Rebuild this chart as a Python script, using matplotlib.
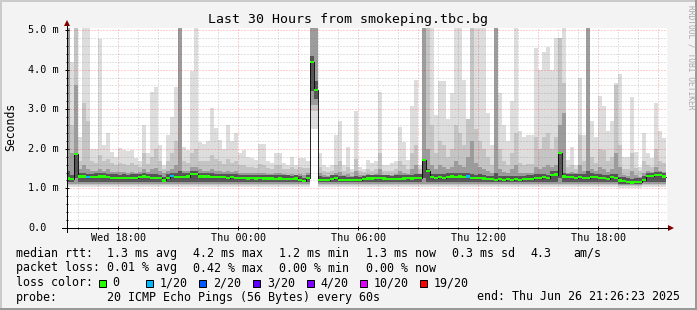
"""SmokePing style latency graph: last 30 hours from smokeping.tbc.bg."""

import numpy as np
import matplotlib

matplotlib.use("Agg")
import matplotlib.pyplot as plt
from matplotlib.lines import Line2D
from matplotlib.patches import Polygon, Rectangle
from matplotlib.transforms import blended_transform_factory

W, H = 697, 310
MONO = "DejaVu Sans Mono"

# ── data ────────────────────────────────────────────────────────────────
# 12 minute bins, time in hours since Wed 00:00 (Thu = 24..48)
bin_start = 15.4
bin_hours = 0.2
view_start, view_end = 15.4333, 45.4333

median = [
    1.25, 1.24, 1.87, 1.30, 1.30, 1.28, 1.28, 1.29, 1.30, 1.30,
    1.28, 1.27, 1.27, 1.26, 1.27, 1.26, 1.27, 1.27, 1.28, 1.30,
    1.28, 1.27, 1.27, 1.26, 1.20, 1.27, 1.31, 1.28, 1.28, 1.29,
    1.30, 1.36, 1.36, 1.30, 1.30, 1.30, 1.29, 1.28, 1.28, 1.28,
    1.27, 1.28, 1.27, 1.26, 1.26, 1.25, 1.26, 1.25, 1.26, 1.25,
    1.25, 1.25, 1.24, 1.25, 1.24, 1.24, 1.23, 1.25, 1.22, 1.18,
    1.26, 4.20, 3.48, 1.22, 1.21, 1.21, 1.24, 1.26, 1.22, 1.22,
    1.21, 1.21, 1.22, 1.21, 1.23, 1.25, 1.25, 1.26, 1.26, 1.25,
    1.24, 1.23, 1.24, 1.24, 1.25, 1.26, 1.25, 1.27, 1.27, 1.72,
    1.43, 1.28, 1.27, 1.28, 1.27, 1.29, 1.30, 1.29, 1.30, 1.29,
    1.30, 1.27, 1.26, 1.27, 1.25, 1.23, 1.23, 1.22, 1.23, 1.22,
    1.23, 1.22, 1.23, 1.22, 1.23, 1.24, 1.24, 1.27, 1.27, 1.28,
    1.26, 1.34, 1.35, 1.90, 1.30, 1.28, 1.28, 1.27, 1.28, 1.27,
    1.27, 1.29, 1.28, 1.27, 1.26, 1.24, 1.28, 1.27, 1.20, 1.19,
    1.16, 1.15, 1.17, 1.17, 1.22, 1.31, 1.31, 1.33, 1.33, 1.30,
]

# lost pings out of 20 per bin
loss = [0] * 5 + [1] + [0] * 20 + [1] + [0] * 73 + [1] + [0] * 49

# smoke: outer (min..max) ring, then tighter rings around the median
rtt_max = [
    5.1, 4.2, 5.1, 2.3, 5.1, 5.1, 2.0, 2.0, 4.78, 2.1,
    2.4, 1.93, 1.8, 2.03, 1.98, 1.95, 1.98, 1.76, 1.68, 2.6,
    1.89, 3.44, 3.57, 2.1, 1.6, 2.35, 2.8, 3.57, 5.1, 2.05,
    1.98, 3.97, 5.1, 2.18, 2.13, 2.2, 3.03, 2.52, 2.22, 2.0,
    2.6, 2.2, 2.4, 1.9, 1.98, 1.8, 1.76, 1.72, 2.13, 2.13,
    1.68, 1.63, 1.9, 1.9, 1.63, 1.59, 1.8, 1.6, 1.76, 1.76,
    1.68, 5.1, 5.1, 1.9, 1.6, 1.55, 1.6, 2.35, 2.7, 1.6,
    2.05, 1.5, 2.96, 1.55, 1.5, 1.72, 1.63, 1.68, 3.44, 1.6,
    1.6, 1.63, 1.68, 2.55, 2.18, 1.72, 3.07, 3.74, 1.6, 5.1,
    5.1, 5.1, 2.85, 3.71, 3.71, 2.74, 3.4, 5.1, 5.1, 3.74,
    2.7, 5.1, 5.1, 5.1, 5.1, 2.9, 2.1, 5.1, 3.4, 2.6,
    2.2, 3.2, 5.1, 2.45, 2.3, 2.35, 2.35, 4.54, 4.0, 4.45,
    4.58, 4.0, 4.8, 4.8, 5.1, 1.72, 2.05, 1.59, 3.78, 2.35,
    5.1, 2.7, 2.3, 3.33, 3.08, 2.45, 2.7, 3.66, 3.9, 1.8,
    1.8, 3.3, 1.93, 1.55, 2.4, 1.9, 1.76, 3.15, 2.45, 2.27,
]
ring_mid = [
    5.1, 2.6, 5.1, 1.7, 3.15, 2.7, 1.7, 1.65, 1.85, 1.7,
    1.75, 1.65, 1.6, 1.65, 1.62, 1.6, 1.65, 1.6, 1.55, 1.9,
    1.62, 1.8, 2.0, 1.7, 1.5, 1.7, 1.9, 2.2, 5.1, 1.7,
    1.65, 1.9, 2.0, 1.7, 1.68, 1.7, 1.85, 1.75, 1.7, 1.62,
    1.75, 1.65, 1.7, 1.6, 1.6, 1.55, 1.55, 1.52, 1.62, 1.6,
    1.52, 1.5, 1.58, 1.6, 1.5, 1.48, 1.55, 1.48, 1.55, 1.52,
    1.52, 5.1, 5.1, 1.55, 1.45, 1.42, 1.45, 1.6, 1.7, 1.45,
    1.55, 1.42, 1.75, 1.45, 1.42, 1.48, 1.45, 1.48, 1.9, 1.45,
    1.45, 1.45, 1.48, 1.7, 1.6, 1.5, 1.9, 2.1, 1.48, 5.1,
    5.1, 2.6, 1.9, 2.2, 2.1, 1.8, 2.0, 2.6, 2.4, 2.1,
    2.75, 5.1, 2.5, 2.2, 2.0, 1.8, 1.6, 5.1, 2.0, 1.7,
    1.6, 1.9, 2.4, 1.65, 1.6, 1.62, 1.62, 2.3, 2.0, 2.3,
    2.4, 2.0, 2.3, 4.8, 3.65, 1.55, 1.6, 1.5, 2.35, 1.7,
    5.1, 1.8, 1.65, 2.0, 1.98, 1.7, 1.8, 3.6, 2.1, 1.5,
    1.5, 1.9, 1.52, 1.45, 1.7, 1.6, 1.55, 2.0, 1.7, 1.65,
]
ring_dark = [
    5.1, 1.9, 3.6, 1.5, 1.6, 1.5, 1.45, 1.45, 1.5, 1.45,
    1.48, 1.42, 1.42, 1.42, 1.42, 1.4, 1.42, 1.4, 1.42, 1.5,
    1.42, 1.48, 1.52, 1.45, 1.38, 1.45, 1.5, 1.6, 5.1, 1.45,
    1.45, 1.55, 1.55, 1.48, 1.45, 1.45, 1.5, 1.45, 1.45, 1.42,
    1.45, 1.42, 1.45, 1.4, 1.4, 1.38, 1.38, 1.38, 1.4, 1.4,
    1.37, 1.36, 1.38, 1.4, 1.36, 1.35, 1.37, 1.35, 1.36, 1.33,
    1.38, 5.1, 5.1, 1.38, 1.33, 1.32, 1.35, 1.4, 1.42, 1.33,
    1.36, 1.32, 1.45, 1.33, 1.33, 1.36, 1.35, 1.37, 1.5, 1.35,
    1.35, 1.34, 1.36, 1.45, 1.4, 1.37, 1.5, 1.6, 1.37, 5.1,
    2.0, 1.6, 1.5, 1.6, 1.55, 1.5, 1.55, 1.7, 1.6, 1.55,
    1.8, 2.2, 1.65, 1.55, 1.5, 1.45, 1.4, 5.1, 1.5, 1.42,
    1.4, 1.48, 1.6, 1.4, 1.38, 1.4, 1.4, 1.55, 1.5, 1.55,
    1.6, 1.55, 1.6, 2.6, 2.9, 1.4, 1.42, 1.38, 1.6, 1.45,
    5.1, 1.5, 1.45, 1.55, 1.5, 1.42, 1.48, 1.9, 1.55, 1.35,
    1.32, 1.45, 1.33, 1.3, 1.4, 1.45, 1.42, 1.55, 1.45, 1.42,
]
core_hi = [
    1.45, 1.33, 1.90, 1.39, 1.40, 1.37, 1.37, 1.38, 1.39, 1.39,
    1.37, 1.36, 1.36, 1.35, 1.36, 1.35, 1.36, 1.36, 1.37, 1.40,
    1.37, 1.36, 1.37, 1.35, 1.29, 1.36, 1.40, 1.38, 1.45, 1.38,
    1.39, 1.45, 1.45, 1.39, 1.39, 1.39, 1.38, 1.37, 1.37, 1.37,
    1.36, 1.37, 1.36, 1.35, 1.35, 1.34, 1.35, 1.34, 1.35, 1.34,
    1.34, 1.34, 1.33, 1.34, 1.33, 1.33, 1.32, 1.34, 1.31, 1.27,
    1.35, 4.35, 3.70, 1.31, 1.30, 1.30, 1.33, 1.35, 1.31, 1.31,
    1.30, 1.30, 1.31, 1.30, 1.32, 1.34, 1.34, 1.35, 1.35, 1.34,
    1.33, 1.32, 1.33, 1.33, 1.34, 1.35, 1.34, 1.36, 1.36, 1.75,
    1.50, 1.37, 1.36, 1.37, 1.36, 1.38, 1.39, 1.38, 1.39, 1.38,
    1.39, 1.37, 1.35, 1.36, 1.34, 1.32, 1.32, 1.40, 1.32, 1.31,
    1.32, 1.31, 1.32, 1.31, 1.32, 1.33, 1.33, 1.36, 1.36, 1.37,
    1.35, 1.43, 1.44, 1.93, 1.39, 1.37, 1.37, 1.36, 1.37, 1.36,
    1.45, 1.38, 1.37, 1.36, 1.35, 1.33, 1.37, 1.36, 1.29, 1.28,
    1.25, 1.24, 1.26, 1.26, 1.31, 1.40, 1.40, 1.42, 1.42, 1.39,
]
rtt_min = [1.03] * 61 + [2.5, 2.5] + [1.03] * 75 + [1.0] * 6 + [1.03] * 6
band_lo = [1.08] * 61 + [2.95, 2.95] + [1.08] * 75 + [1.05] * 6 + [1.08] * 6
dark_lo = [1.12] * 61 + [3.1, 3.1] + [1.12] * 75 + [1.09] * 6 + [1.12] * 6
core_lo = (
    [1.17, 1.17, 1.25] + [1.17] * 58 + [3.45, 3.25] + [1.17] * 26 + [1.25]
    + [1.17] * 33 + [1.25] + [1.17] * 14 + [1.12] * 6 + [1.17] * 6
)

tick_hours = [18, 24, 30, 36, 42]
tick_labels = ["Wed 18:00", "Thu 00:00", "Thu 06:00", "Thu 12:00", "Thu 18:00"]
y_ticks = [0, 1, 2, 3, 4, 5]
y_labels = ["0.0", "1.0 m", "2.0 m", "3.0 m", "4.0 m", "5.0 m"]

loss_steps = [0, 1, 2, 3, 4, 10, 19]
loss_names = ["0", "1/20", "2/20", "3/20", "4/20", "10/20", "19/20"]
loss_colors = ["#26ff00", "#00b8ff", "#0059ff", "#5e00ff", "#7e00ff", "#dd00ff", "#ff0000"]

rtt_stats = ["1.3 ms avg", "4.2 ms max", "1.2 ms min", "1.3 ms now", "0.3 ms sd"]
rtt_am = "4.3"
loss_stats = ["0.01 % avg", "0.42 % max", "0.00 % min", "0.00 % now"]
probe_text = "20 ICMP Echo Pings (56 Bytes) every 60s"
end_text = "end: Thu Jun 26 21:26:23 2025"


def fx(px):
    return px / W


def fy(py):
    return 1 - py / H


def held(values):
    v = np.asarray(values, dtype=float)
    return np.append(v, v[-1])


plt.rcParams["font.family"] = MONO

n = len(median)
edges = bin_start + bin_hours * np.arange(n + 1)

fig = plt.figure(figsize=(W / 100, H / 100), dpi=100, facecolor="#f3f3f3")
ax = fig.add_axes([fx(67), fy(228), 600 / W, 200 / H])
ax.set_facecolor("white")
ax.set_xlim(view_start, view_end)
ax.set_ylim(0, 5.05)
for spine in ax.spines.values():
    spine.set_visible(False)

# smoke rings, lightest first
layers = [
    (rtt_min, rtt_max, "#dddddd"),
    (band_lo, ring_mid, "#c4c4c4"),
    (dark_lo, ring_dark, "#9c9c9c"),
    (core_lo, core_hi, "#555555"),
]
for lo, hi, col in layers:
    ax.fill_between(edges, held(lo), held(hi), step="post",
                    color=col, linewidth=0, zorder=1)

# dotted grid on top of the smoke
minor_col = (0.5, 0.5, 0.5, 0.45)
major_col = (1.0, 0.0, 0.0, 0.38)
for h in range(16, 46):
    ax.axvline(h, color=major_col if h % 3 == 0 else minor_col,
               lw=0.72, ls=(0, (1, 2)), zorder=2)
for i in range(1, 26):
    ax.axhline(i * 0.2, color=major_col if i % 5 == 0 else minor_col,
               lw=0.72, ls=(0, (1, 2)), zorder=2)

# median: thin black step line plus loss coloured band
med = np.asarray(median, dtype=float)
ax.step(edges, held(median), where="post", color="black", lw=0.6, zorder=3)
cat = np.searchsorted(loss_steps, loss, side="right") - 1
ax.bar(edges[:-1], 0.055, bottom=med - 0.0275, width=bin_hours, align="edge",
       color=[loss_colors[c] for c in cat], linewidth=0, zorder=4,
       antialiased=False)

# ticks and labels
ax.set_xticks(tick_hours)
ax.set_xticklabels(tick_labels, fontsize=7.3)
ax.set_xticks(range(16, 46), minor=True)
ax.set_yticks(y_ticks)
ax.set_yticklabels([])
ax.set_yticks(np.arange(0.2, 5.01, 0.2), minor=True)
ax.tick_params(which="major", direction="inout", length=2.5, width=0.72, pad=2.2)
ax.tick_params(which="minor", direction="inout", length=1.5, width=0.72)

ylab_tr = blended_transform_factory(fig.transFigure, ax.transData)
for v, lab in zip(y_ticks, y_labels):
    ax.text(fx(28), v, lab, transform=ylab_tr, ha="left", va="center",
            fontsize=7.3)

# axis lines with rrdtool arrows
fig.add_artist(Line2D([fx(62), fx(668)], [fy(228), fy(228)], color="black", lw=0.72))
fig.add_artist(Line2D([fx(67), fx(67)], [fy(232), fy(26)], color="black", lw=0.72))
fig.add_artist(Polygon([(fx(668), fy(225)), (fx(668), fy(231)), (fx(674), fy(228))],
                       closed=True, color="#7f0000", lw=0))
fig.add_artist(Polygon([(fx(64), fy(26)), (fx(70), fy(26)), (fx(67), fy(20))],
                       closed=True, color="#7f0000", lw=0))

# titles
fig.text(fx(348), fy(23), "Last 30 Hours from smokeping.tbc.bg",
         ha="center", va="baseline", fontsize=9.5)
fig.text(fx(11), fy(127), "Seconds", rotation=90, ha="center", va="center",
         fontsize=8.3)
fig.text(fx(691), fy(5), "RRDTOOL / TOBI OETIKER", rotation=270,
         ha="center", va="top", fontsize=5.7, color="#a8a8a8")

# legend block
leg = dict(ha="left", va="baseline", fontsize=8.35)
row_y = [257, 271.5, 286, 300.5]
stat_x = [107.3, 193.3, 279.3, 365.7, 451.5]

fig.text(fx(16), fy(row_y[0]), "median rtt:", **leg)
for x, s in zip(stat_x, rtt_stats):
    fig.text(fx(x), fy(row_y[0]), s, **leg)
fig.text(fx(530), fy(row_y[0]), rtt_am, **leg)
fig.text(fx(573), fy(row_y[0]), "am/s", **leg)

fig.text(fx(16), fy(row_y[1]), "packet loss:", **leg)
for x, s in zip(stat_x, loss_stats):
    fig.text(fx(x), fy(row_y[1]), s, **leg)

fig.text(fx(16), fy(row_y[2]), "loss color:", **leg)
box_x = [99, 146, 199.3, 253.3, 306.7, 360, 420]
for x, name, col in zip(box_x, loss_names, loss_colors):
    fig.add_artist(Rectangle((fx(x), fy(287)), 7 / W, 7 / H,
                             facecolor=col, edgecolor="black", lw=0.72))
    fig.text(fx(x + 13.7), fy(row_y[2]), name, **leg)

fig.text(fx(16), fy(row_y[3]), "probe:", **leg)
fig.text(fx(107.3), fy(row_y[3]), probe_text, **leg)
fig.text(fx(680), fy(row_y[3]), end_text, ha="right", va="baseline", fontsize=8.35)

# 3d frame around the image
fig.add_artist(Rectangle((0, fy(2)), 1, 2 / H, color="#cbcbcb", lw=0))
fig.add_artist(Rectangle((0, 0), 2 / W, 1, color="#cbcbcb", lw=0))
fig.add_artist(Rectangle((0, 0), 1, 2 / H, color="#999999", lw=0))
fig.add_artist(Rectangle((1 - 2 / W, 0), 2 / W, 1, color="#999999", lw=0))

fig.savefig("out.png", dpi=100, facecolor=fig.get_facecolor())
